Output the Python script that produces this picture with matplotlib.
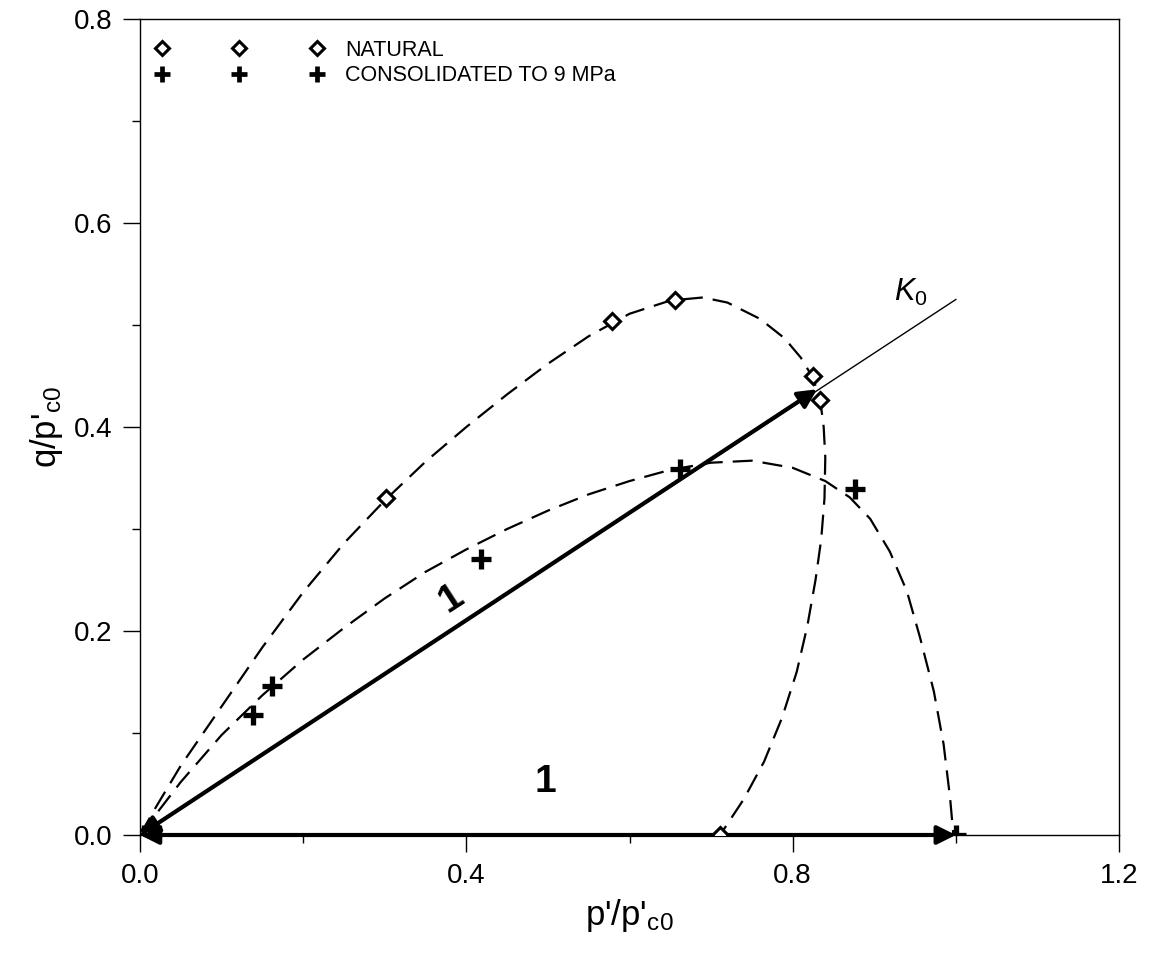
import numpy as np
import matplotlib.pyplot as plt
from matplotlib.lines import Line2D

plt.rcParams['font.family'] = ['Liberation Sans', 'DejaVu Sans']
plt.rcParams['mathtext.fontset'] = 'custom'
plt.rcParams['mathtext.rm'] = 'Liberation Sans'
plt.rcParams['mathtext.it'] = 'Liberation Sans:italic'

# measured points
nat_p = [0.005, 0.302, 0.578, 0.656, 0.825, 0.834, 0.711]
nat_q = [0.0, 0.330, 0.504, 0.525, 0.450, 0.426, 0.0]
con_p = [0.005, 0.138, 0.162, 0.418, 0.662, 0.877, 1.0]
con_q = [0.0, 0.118, 0.146, 0.271, 0.359, 0.339, 0.0]

# dashed yield curves (traced)
nat_curve_p = [0.0, 0.02, 0.05, 0.10, 0.15, 0.20, 0.25, 0.30, 0.35, 0.40, 0.45,
               0.50, 0.55, 0.60, 0.65, 0.69, 0.72, 0.76, 0.79, 0.81, 0.825, 0.834,
               0.838, 0.840, 0.839, 0.835, 0.828, 0.818, 0.805, 0.787, 0.765,
               0.740, 0.711]
nat_curve_q = [0.0, 0.028, 0.068, 0.126, 0.184, 0.238, 0.286, 0.328, 0.366, 0.400,
               0.432, 0.462, 0.489, 0.511, 0.524, 0.527, 0.522, 0.506, 0.487, 0.468,
               0.448, 0.425, 0.400, 0.370, 0.330, 0.290, 0.250, 0.205, 0.160, 0.115,
               0.072, 0.035, 0.0]
con_curve_p = [0.0, 0.05, 0.10, 0.15, 0.20, 0.25, 0.30, 0.35, 0.40, 0.45, 0.50,
               0.55, 0.60, 0.65, 0.70, 0.75, 0.80, 0.84, 0.87, 0.895, 0.919, 0.940,
               0.956, 0.973, 0.985, 0.993, 0.997]
con_curve_q = [0.0, 0.052, 0.098, 0.137, 0.172, 0.203, 0.232, 0.258, 0.280, 0.300,
               0.318, 0.334, 0.347, 0.358, 0.365, 0.367, 0.360, 0.347, 0.331, 0.310,
               0.278, 0.239, 0.194, 0.141, 0.089, 0.036, 0.0]

# K0 line and stress paths
k0_p = [0.0, 1.0]
k0_q = [0.0, 0.525]
k0_end = (0.83, 0.437)
iso_end = (1.0, 0.0)

fig = plt.figure(figsize=(11.52, 9.67), dpi=100)
ax = fig.add_axes([140/1152, 1 - 835/967, 979/1152, 816/967])

ax.plot(k0_p, k0_q, 'k-', lw=1.0)
ax.plot(nat_curve_p, nat_curve_q, 'k', lw=1.6, dashes=(9, 4.5))
ax.plot(con_curve_p, con_curve_q, 'k', lw=1.6, dashes=(9, 4.5))

arrow = dict(arrowstyle='<|-|>', lw=3, color='k', mutation_scale=28,
             shrinkA=0, shrinkB=0)
ax.annotate('', xy=k0_end, xytext=(0, 0), arrowprops=arrow)
ax.annotate('', xy=iso_end, xytext=(0, 0), arrowprops=arrow)

ax.plot(nat_p, nat_q, ls='none', marker='D', ms=8, mfc='white', mec='k', mew=2.2, zorder=5)
ax.plot(con_p, con_q, ls='none', marker='+', ms=15, mec='k', mew=3.8, zorder=5)

ax.text(0.497, 0.052, '1', fontsize=28, fontweight='bold', ha='center', va='center')
ax.text(0.381, 0.232, '1', fontsize=28, fontweight='bold', ha='center', va='center',
        rotation=33)
ax.text(0.945, 0.532, r'$\mathit{K}_{\mathit{0}}$', fontsize=22, ha='center', va='center')

handles = [Line2D([], [], ls='none', marker='D', ms=7, mfc='white', mec='k', mew=2.2),
           Line2D([], [], ls='none', marker='+', ms=12, mec='k', mew=3.4)]
ax.legend(handles, ['NATURAL', 'CONSOLIDATED TO 9 MPa'], numpoints=3,
          handlelength=7.8, handletextpad=1.0, frameon=False, fontsize=15.5,
          loc='upper left', bbox_to_anchor=(0.007, 0.985), borderaxespad=0,
          labelspacing=0.2)

ax.set_xlim(0, 1.2)
ax.set_ylim(0, 0.8)
ax.set_xticks([0.0, 0.4, 0.8, 1.2])
ax.set_xticks([0.2, 0.6, 1.0], minor=True)
ax.set_yticks([0.0, 0.2, 0.4, 0.6, 0.8])
ax.set_yticks([0.1, 0.3, 0.5, 0.7], minor=True)
ax.set_xticklabels(['0.0', '0.4', '0.8', '1.2'])
ax.set_yticklabels(['0.0', '0.2', '0.4', '0.6', '0.8'])
ax.tick_params(which='major', direction='out', length=12, width=1, labelsize=20, pad=8)
ax.tick_params(which='minor', direction='out', length=6, width=1)
for s in ax.spines.values():
    s.set_linewidth(1.0)

ax.set_xlabel(r"p'/p'$_{\mathregular{c0}}$", fontsize=25, labelpad=6)
ax.set_ylabel(r"q/p'$_{\mathregular{c0}}$", fontsize=25, labelpad=6)

fig.savefig('out.png', dpi=100)
